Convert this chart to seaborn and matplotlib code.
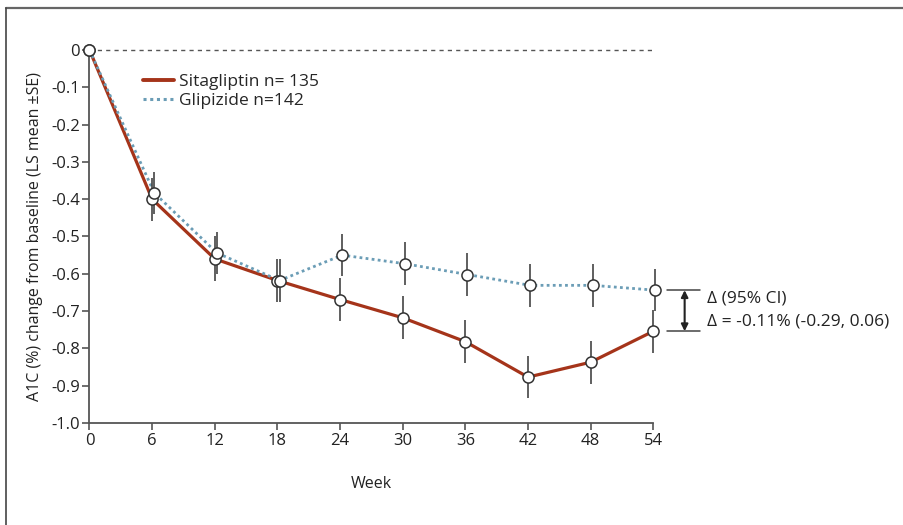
import matplotlib
matplotlib.use("Agg")
import matplotlib.pyplot as plt
from matplotlib.lines import Line2D
import numpy as np
import pandas as pd
import seaborn as sns

# A1C change from baseline by week (LS mean ± SE)
weeks = [0, 6, 12, 18, 24, 30, 36, 42, 48, 54]
sitagliptin = [0.0, -0.400, -0.560, -0.618, -0.669, -0.718, -0.782, -0.877, -0.837, -0.754]
sitagliptin_se = [0.0, 0.058, 0.060, 0.058, 0.058, 0.058, 0.058, 0.057, 0.058, 0.058]
glipizide = [0.0, -0.383, -0.544, -0.618, -0.550, -0.573, -0.602, -0.631, -0.631, -0.644]
glipizide_se = [0.0, 0.057, 0.057, 0.057, 0.057, 0.057, 0.057, 0.057, 0.057, 0.057]
series_labels = ["Sitagliptin n= 135", "Glipizide n=142"]
x_ticks = [0, 6, 12, 18, 24, 30, 36, 42, 48, 54]
y_ticks = [0, -0.1, -0.2, -0.3, -0.4, -0.5, -0.6, -0.7, -0.8, -0.9, -1.0]
y_ticklabels = ["0", "-0.1", "-0.2", "-0.3", "-0.4", "-0.5", "-0.6", "-0.7", "-0.8", "-0.9", "-1.0"]
delta_lines = ["\u0394 (95% CI)", "\u0394 = -0.11% (-0.29, 0.06)"]

sns.set_theme(style="white")
plt.rcParams["font.family"] = ["Open Sans", "DejaVu Sans"]

SITA_COLOR = "#a5341a"
GLIP_COLOR = "#6b9db6"
GLIP_SHIFT = 0.2  # small horizontal dodge so the two series stay legible

df = pd.DataFrame({
    "week": weeks + [w + GLIP_SHIFT if w > 0 else w for w in weeks],
    "change": sitagliptin + glipizide,
    "se": sitagliptin_se + glipizide_se,
    "group": [series_labels[0]] * len(weeks) + [series_labels[1]] * len(weeks),
})

fig = plt.figure(figsize=(9.04, 5.25), dpi=100)
ax = fig.add_axes([0.099, 0.1943, 0.6237, 0.7105])

sns.lineplot(data=df, x="week", y="change", hue="group", style="group",
             palette={series_labels[0]: SITA_COLOR, series_labels[1]: GLIP_COLOR},
             dashes={series_labels[0]: "", series_labels[1]: (1, 1.2)},
             linewidth=2.3, ax=ax, zorder=2, legend=False, sort=False,
             errorbar=None)
# make the dotted series slightly thinner
ax.lines[1].set_linewidth(2.0)

# baseline reference
ax.plot([0, 54], [0, 0], color="#555555", lw=1.0, dashes=(3, 3), zorder=1, clip_on=False)

# SE bars and open circle markers
for grp in series_labels:
    sub = df[df["group"] == grp]
    sub = sub[sub["se"] > 0]
    ax.errorbar(sub["week"], sub["change"], yerr=sub["se"], fmt="none",
                ecolor="#444444", elinewidth=1.2, capsize=0, zorder=3, clip_on=False)
for grp in series_labels:
    sub = df[df["group"] == grp]
    ax.plot(sub["week"], sub["change"], "o", ms=8, mfc="white", mec="#333333",
            mew=1.1, zorder=4, clip_on=False)

ax.set_xlim(0, 54)
ax.set_ylim(-1.0, 0)
ax.set_xticks(x_ticks)
ax.set_xticklabels([str(t) for t in x_ticks])
ax.set_yticks(y_ticks)
ax.set_yticklabels(y_ticklabels)
ax.tick_params(axis="both", which="both", direction="out", length=5, width=1.2,
               color="#555555", labelsize=12, labelcolor="#222222", pad=2,
               left=True, bottom=True)
for side in ["top", "right"]:
    ax.spines[side].set_visible(False)
for side in ["left", "bottom"]:
    ax.spines[side].set_color("#555555")
    ax.spines[side].set_linewidth(1.3)

ax.set_xlabel("Week", fontsize=11.5, color="#222222", labelpad=20)
ax.set_ylabel("A1C (%) change from baseline (LS mean \u00b1SE)", fontsize=11.5,
              color="#222222", labelpad=6)

# legend
handles = [Line2D([0], [0], color=SITA_COLOR, lw=2.8),
           Line2D([0], [0], color=GLIP_COLOR, lw=2.2, dashes=(1, 1.2))]
ax.legend(handles, series_labels, loc="upper left", bbox_to_anchor=(0.08, 0.96),
          frameon=False, fontsize=12.5, handlelength=1.75, handletextpad=0.3,
          labelspacing=0.2, borderpad=0)

# treatment difference bracket at week 54
y_top, y_bot = glipizide[-1], sitagliptin[-1]
for yv in (y_top, y_bot):
    ax.plot([55.3, 58.5], [yv, yv], color="#444444", lw=1.1, clip_on=False)
ax.annotate("", xy=(57.0, y_top), xytext=(57.0, y_bot),
            arrowprops=dict(arrowstyle="<|-|>", color="#222222", lw=1.5,
                            mutation_scale=10, shrinkA=0, shrinkB=0),
            annotation_clip=False)
ax.text(59.1, -0.666, delta_lines[0], fontsize=12.5, color="#222222",
        va="center", ha="left", clip_on=False)
ax.text(59.1, -0.729, delta_lines[1], fontsize=12.5, color="#222222",
        va="center", ha="left", clip_on=False)

# outer frame lines (top and left)
fig.add_artist(Line2D([6 / 904, 1], [1 - 8 / 525, 1 - 8 / 525], color="#666666",
                      lw=1.6, transform=fig.transFigure))
fig.add_artist(Line2D([6 / 904, 6 / 904], [0, 1 - 8 / 525], color="#444444",
                      lw=1.2, transform=fig.transFigure))

fig.savefig("out.png", dpi=100)
